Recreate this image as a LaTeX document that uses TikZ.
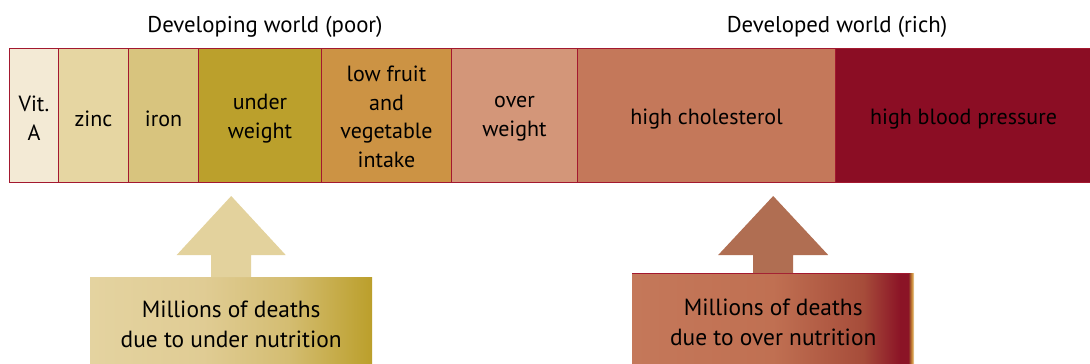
\documentclass[tikz,border=0pt]{standalone}
\usepackage{fontspec}
\setmainfont{PT Sans}
\definecolor{cVit}{HTML}{F3EAD5}
\definecolor{cZinc}{HTML}{E6D6A2}
\definecolor{cIron}{HTML}{D8C47E}
\definecolor{cUnder}{HTML}{BBA02C}
\definecolor{cFruit}{HTML}{CC9344}
\definecolor{cOver}{HTML}{D39679}
\definecolor{cChol}{HTML}{C4785A}
\definecolor{cBP}{HTML}{8B0D24}
\definecolor{cBorder}{HTML}{A3182F}
\definecolor{cArrowU}{HTML}{E3D29D}
\definecolor{cArrowO}{HTML}{B06E52}
\definecolor{uA}{HTML}{E4D3A0}
\definecolor{uB}{HTML}{E0CC94}
\definecolor{uC}{HTML}{D4BD72}
\definecolor{uD}{HTML}{BB9F2B}
\definecolor{oA}{HTML}{C4785A}
\definecolor{oB}{HTML}{C07052}
\definecolor{oC}{HTML}{A64C3A}
\definecolor{oD}{HTML}{8B1426}
\definecolor{oE}{HTML}{9A4A2A}
\definecolor{oF}{HTML}{D0903A}
\definecolor{oG}{HTML}{F3E6C8}
\pgfdeclarehorizontalshading{undershade}{100bp}{color(0bp)=(uA); color(25bp)=(uA); color(45bp)=(uB); color(60bp)=(uC); color(75bp)=(uD); color(100bp)=(uD)}
\pgfdeclarehorizontalshading{overshade}{100bp}{color(0bp)=(oA); color(25bp)=(oA); color(50bp)=(oB); color(66bp)=(oC); color(72.5bp)=(oD); color(74bp)=(oD); color(74.2bp)=(oE); color(74.6bp)=(oF); color(75bp)=(oG); color(100bp)=(oG)}
\begin{document}
\begin{tikzpicture}[x=1pt,y=-1pt,
  cell/.style={draw=cBorder, line width=1pt, anchor=north west, inner sep=0pt,
    minimum height=134pt},
  celltext/.style={inner sep=0pt, align=center, font=\fontsize{22}{28.5}\selectfont},
  head/.style={font=\fontsize{22.8}{26}\selectfont},
  deathbox/.style={anchor=north west, inner sep=0pt,
    align=center, font=\fontsize{23.4}{30}\selectfont}]
\useasboundingbox (0,0) rectangle (1090,364);
% header texts
\node[head] (poor) at (265,27) {Developing world (poor)};
\node[head] (rich) at (837,27) {Developed world (rich)};
% bar of risk factors
\node[cell, fill=cVit,   minimum width=49pt]  (vit)   at (9,48)   {};
\node[cell, fill=cZinc,  minimum width=70pt]  (zinc)  at (58,48)  {};
\node[cell, fill=cIron,  minimum width=70pt]  (iron)  at (128,48) {};
\node[cell, fill=cUnder, minimum width=123pt] (under) at (198,48) {};
\node[cell, fill=cFruit, minimum width=130pt] (fruit) at (321,48) {};
\node[cell, fill=cOver,  minimum width=126pt] (over)  at (451,48) {};
\node[cell, fill=cChol,  minimum width=258pt] (chol)  at (577,48) {};
\node[cell, fill=cBP,    minimum width=256pt] (bp)    at (835,48) {};
\node[celltext] (tvit)   at ([yshift=-2.5pt]vit.center)   {Vit.\\A};
\node[celltext] (tzinc)  at ([yshift=-3pt]zinc.center)    {zinc};
\node[celltext] (tiron)  at ([yshift=-3pt]iron.center)    {iron};
\node[celltext] (tunder) at ([yshift=-3pt]under.center)   {under\\weight};
\node[celltext] (tfruit) at ([yshift=-1.5pt]fruit.center) {low fruit\\and\\vegetable\\intake};
\node[celltext] (tover)  at ([yshift=-3pt]over.center)    {over\\weight};
\node[celltext] (tchol)  at ([yshift=-3.5pt]chol.center)  {high cholesterol};
\node[celltext] (tbp)    at ([yshift=-3.5pt]bp.center)    {high blood pressure};
% boxes
\node[deathbox, shading=undershade, minimum width=282pt, minimum height=95pt] (box1) at (90,277)
  {Millions of deaths\\due to under nutrition};
\node[deathbox, shading=overshade, minimum width=282pt, minimum height=99pt] (box2) at (632,273)
  {Millions of deaths\\due to over nutrition};
\draw[cBorder, line width=0.8pt] (box2.north west) -- ([xshift=-5pt]box2.north east);
% block arrows
\fill[cArrowU] ([xshift=-20pt]box1.north) -- ++(0,-22) -- ++(-34.5,0) -- ++(54.5,-59)
  -- ++(54.5,59) -- ++(-34.5,0) -- ++(0,22) -- cycle;
\fill[cArrowO] ([xshift=-20pt]box2.north) -- ++(0,-18) -- ++(-35,0) -- ++(55,-59)
  -- ++(55,59) -- ++(-35,0) -- ++(0,18) -- cycle;
\end{tikzpicture}
\end{document}
